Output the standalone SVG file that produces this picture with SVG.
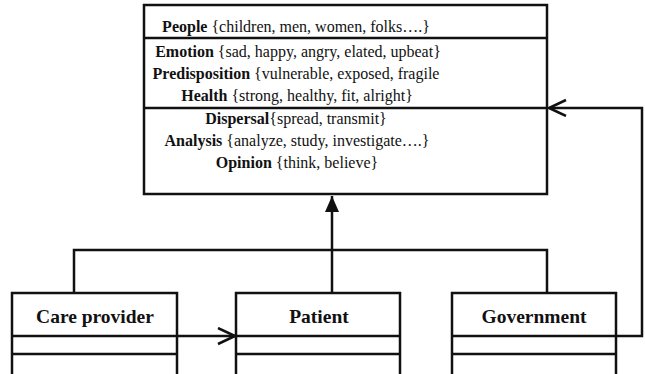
<svg xmlns="http://www.w3.org/2000/svg" width="645" height="374" viewBox="0 0 645 374">
<defs>
<marker id="open" markerWidth="20" markerHeight="20" refX="18" refY="9" orient="auto" markerUnits="userSpaceOnUse">
<path d="M1,1 L18,9 L1,17" fill="none" stroke="#111" stroke-width="2.5"/>
</marker>
<marker id="fill" markerWidth="16" markerHeight="18" refX="16" refY="7" orient="auto" markerUnits="userSpaceOnUse">
<path d="M0,0 L16,7 L0,14 Z" fill="#111"/>
</marker>
</defs>
<rect width="645" height="374" fill="#fff"/>
<g id="connectors" fill="none" stroke="#111" stroke-width="2.5">
<path d="M74,293 V250 H547 V293"/>
<path d="M332,293 V196" marker-end="url(#fill)"/>
<path d="M177,336 H235" marker-end="url(#open)"/>
<path d="M616,336 H642 V108 H549" marker-end="url(#open)"/>
</g>
<g id="main">
<g fill="#fff" stroke="#111" stroke-width="2.5">
<rect x="144" y="5" width="403" height="189"/>
<line x1="144" y1="38" x2="547" y2="38"/>
<line x1="144" y1="108" x2="547" y2="108"/>
</g>
<g font-family="Liberation Serif" font-size="16" fill="#111" text-anchor="middle">
<text x="296" y="32"><tspan font-weight="bold">People</tspan> {children, men, women, folks….}</text>
<text x="298" y="57"><tspan font-weight="bold">Emotion</tspan> {sad, happy, angry, elated, upbeat}</text>
<text x="296" y="79"><tspan font-weight="bold">Predisposition</tspan> {vulnerable, exposed, fragile</text>
<text x="297" y="101"><tspan font-weight="bold">Health</tspan> {strong, healthy, fit, alright}</text>
<text x="296" y="124"><tspan font-weight="bold">Dispersal</tspan>{spread, transmit}</text>
<text x="297" y="146"><tspan font-weight="bold">Analysis</tspan> {analyze, study, investigate….}</text>
<text x="297" y="168"><tspan font-weight="bold">Opinion</tspan> {think, believe}</text>
</g>
</g>
<g id="care-provider">
<g fill="#fff" stroke="#111" stroke-width="2.5">
<rect x="12" y="293" width="165" height="90"/>
<line x1="12" y1="336" x2="177" y2="336"/>
<line x1="12" y1="354" x2="177" y2="354"/>
</g>
<text font-family="Liberation Serif" font-size="19.5" font-weight="bold" fill="#111" text-anchor="middle" x="95" y="323">Care provider</text>
</g>
<g id="patient">
<g fill="#fff" stroke="#111" stroke-width="2.5">
<rect x="236" y="293" width="164" height="90"/>
<line x1="236" y1="336" x2="400" y2="336"/>
<line x1="236" y1="354" x2="400" y2="354"/>
</g>
<text font-family="Liberation Serif" font-size="19.5" font-weight="bold" fill="#111" text-anchor="middle" x="319" y="323">Patient</text>
</g>
<g id="government">
<g fill="#fff" stroke="#111" stroke-width="2.5">
<rect x="452" y="293" width="164" height="90"/>
<line x1="452" y1="336" x2="616" y2="336"/>
<line x1="452" y1="354" x2="616" y2="354"/>
</g>
<text font-family="Liberation Serif" font-size="19.5" font-weight="bold" fill="#111" text-anchor="middle" x="534" y="323">Government</text>
</g>
</svg>
